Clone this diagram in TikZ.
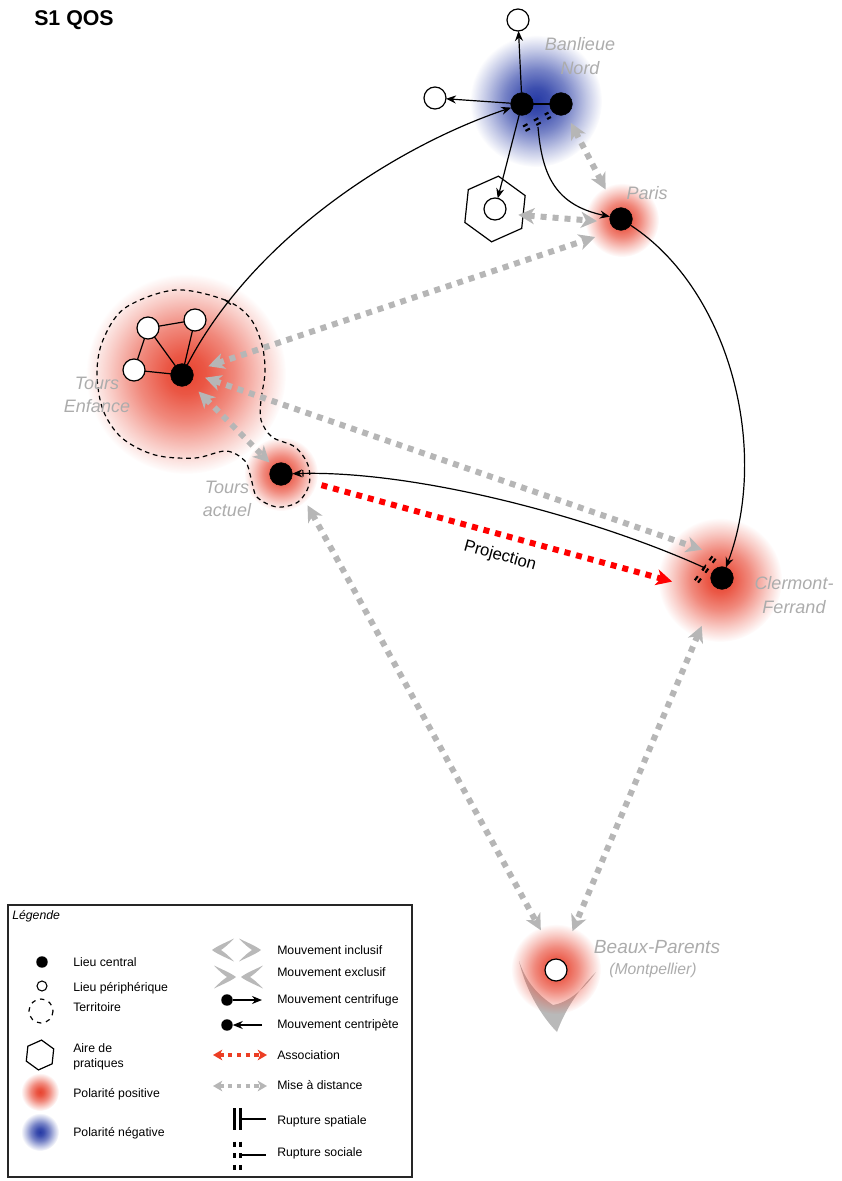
\documentclass[tikz,border=0pt]{standalone}
\usepackage{fontspec}
\setmainfont{Liberation Sans}
\usetikzlibrary{arrows.meta,fadings}
\definecolor{glowred}{RGB}{232,68,48}
\definecolor{glowblue}{RGB}{38,58,165}
\definecolor{dgray}{RGB}{182,182,182}
\definecolor{lgray}{RGB}{172,172,172}
\definecolor{chevgray}{RGB}{185,185,185}
\definecolor{legred}{RGB}{236,62,36}
\pgfdeclareradialshading{glowsh}{\pgfpointorigin}{color(0bp)=(white); color(5bp)=(white!90!black); color(12bp)=(white!63!black); color(19bp)=(white!28!black); color(25bp)=(black); color(50bp)=(black)}
\pgfdeclarefading{glowfade}{\pgfuseshading{glowsh}}
\newcommand\myglow[4]{\fill[#1,path fading=glowfade] (#2,#3) circle (#4);}
\newcommand\mychev[3]{\fill[chevgray,shift={(#1,#2)},rotate=#3] (11,-11.5) .. controls (4,-8) and (-6,-4) .. (-11,0) .. controls (-6,4) and (4,8) .. (11,11.5) .. controls (6,6) and (1,2) .. (-2,0) .. controls (1,-2) and (6,-6) .. cycle;}
\tikzset{
  cnode/.style={circle,fill=black,draw=black,inner sep=0pt,outer sep=0pt,minimum size=17pt},
  pnode/.style={circle,fill=white,draw=black,line width=0.9pt,inner sep=0pt,outer sep=0pt,minimum size=16.5pt},
  lcnode/.style={circle,fill=black,inner sep=0pt,outer sep=0pt,minimum size=8.6pt},
  lpnode/.style={circle,fill=white,draw=black,line width=0.8pt,inner sep=0pt,outer sep=0pt,minimum size=7.5pt},
  blk/.style={draw=black,line width=0.9pt,>={Stealth[length=7.5pt,width=6pt]}},
  lnk/.style={draw=black,line width=0.9pt},
  mise/.style={draw=dgray,line width=4.5pt,dash pattern=on 4.5pt off 4.5pt,>={Stealth[length=12pt,width=12pt,inset=3.5pt]},<->},
  assoc/.style={draw=red,line width=4.5pt,dash pattern=on 4.5pt off 4.5pt,>={Stealth[length=12pt,width=12pt,inset=3.5pt]},->},
  lmise/.style={line width=2.6pt,dash pattern=on 3.3pt off 3.3pt,>={Stealth[length=7pt,width=8pt,inset=2pt]},<->},
  terr/.style={draw=black,line width=0.9pt,dash pattern=on 3.5pt off 2.8pt},
  rupd/.style={draw=black,line width=1.6pt,dash pattern=on 3.75pt off 5.5pt},
  tickm/.style={sloped,rectangle,fill=black,inner sep=0pt,minimum width=1pt,minimum height=5.5pt},
  place/.style={text=lgray,font=\fontsize{13.5}{17.5}\selectfont\itshape,align=center,inner sep=0pt},
  leg/.style={font=\fontsize{9.2}{11}\selectfont,anchor=west,inner sep=0pt,text height=6.6pt,text depth=0pt},
}
\begin{document}
\begin{tikzpicture}[x=0.75pt,y=-0.75pt]
\useasboundingbox (0,0) rectangle (842,1181);

% Beaux-Parents V shape
\fill[chevgray] (519,961) .. controls (527,995) and (545,1020) .. (557,1032) .. controls (565,1010) and (578,990) .. (596,972) .. controls (582,992) and (566,1003) .. (553,1005) .. controls (538,995) and (526,982) .. (519,961) -- cycle;

% glows
\myglow{glowblue}{536}{101}{66}
\myglow{glowred}{622}{220}{37}
\myglow{glowred}{186}{374}{100}
\myglow{glowred}{281}{474}{37}
\myglow{glowred}{720}{580}{62}
\myglow{glowred}{556}{969}{45}

% territory
\draw[terr] plot[smooth cycle,tension=0.55] coordinates {(175,290) (225,300) (250,318) (262,345) (265,372) (261,400) (261,420) (272,437) (295,447) (308,465) (309,485) (298,502) (277,507) (257,497) (251,478) (245,461) (226,451) (195,458) (155,455) (122,438) (103,410) (97,373) (103,340) (125,308)};

% practice area hexagon
\begin{scope}[shift={(495,209)}]
\draw[line width=0.9pt] (-84:33) -- (-24:33) -- (36:33) -- (96:33) -- (156:33) -- (216:33) -- cycle;
\end{scope}

% nodes
\node[cnode] (bn1) at (522,104) {};
\node[cnode] (bn2) at (561,104) {};
\node[pnode] (bnt) at (518,20) {};
\node[pnode] (bnl) at (435,98) {};
\node[pnode] (hexc) at (495,209) {};
\node[cnode] (pa) at (621,219) {};
\node[cnode] (te) at (182,375) {};
\node[pnode] (te1) at (148,328) {};
\node[pnode] (te2) at (195,320) {};
\node[pnode] (te3) at (134,370) {};
\node[cnode] (ta) at (281,474) {};
\node[cnode] (cf) at (722,578) {};
\node[pnode] (bp) at (556,970) {};

% mise a distance
\draw[mise,shorten <=16pt,shorten >=25pt] (bn2.center) -- (pa.center);
\draw[mise,shorten <=17.5pt,shorten >=18pt] ([yshift=-3pt]hexc.center) -- ([yshift=-3pt]pa.center);
\draw[mise,shorten <=20.8pt,shorten >=20.5pt] (te.center) -- ([yshift=-7pt]pa.center);
\draw[mise,shorten <=18.3pt,shorten >=15.8pt] ([yshift=4pt]te.center) -- ([yshift=16pt]cf.center);
\draw[mise,shorten <=17.6pt,shorten >=12.2pt] (te.center) -- (ta.center);
\draw[mise,shorten <=26.8pt,shorten >=34pt] ([xshift=7pt]ta.center) -- ([xshift=5pt]bp.center);
\draw[mise,shorten <=39pt,shorten >=31.6pt] (cf.center) -- (bp.center);
% association
\draw[assoc,shorten <=31.5pt,shorten >=38.8pt] (ta.center) -- ([yshift=-13pt]cf.center);
\node[font=\fontsize{12.5}{15}\selectfont,rotate=-15.5] (proj) at (500,556) {Projection};

% Tours Enfance links
\draw[lnk] (te1) -- (te2);
\draw[lnk] (te1) -- (te3);
\draw[lnk] (te3) -- (te);
\draw[lnk] (te1) -- (te);
\draw[lnk] (te2) -- (te);

% movements
\draw[blk,->] (te) .. controls (255,235) and (400,145) .. node[tickm,pos=0.17] (tk) {} (bn1);
\draw[blk,->] (bn1) -- (bnt);
\draw[blk,->] (bn1) -- (bnl);
\draw[blk,->] (bn1) -- (hexc);
\draw[lnk] (bn1) -- (bn2);
\coordinate (bnr) at (538,127);
\draw[blk,->] (bnr) .. controls (542,175) and (555,205) .. (pa);
\draw[blk,->] (pa) .. controls (730,290) and (770,450) .. (cf);
\coordinate (cfr) at (705,568);
\draw[blk,{Bar[width=5pt]}-{Bar[width=5pt]Stealth[length=7.5pt,width=6pt]}] (cfr) .. controls (600,520) and (420,470) .. (ta);

% ruptures sociales
\draw[rupd] (525.5,130.9) -- (550.9,117);
\draw[rupd] (523.1,126.5) -- (548.5,112.6);
\draw[rupd] (715.6,558.7) -- (697.6,583.2);
\draw[rupd] (712.4,556.3) -- (694.4,580.8);

% labels
\node[anchor=west,font=\bfseries\fontsize{16}{19}\selectfont,inner sep=0pt] (title) at (34,20) {S1 QOS};
\node[place] (lbn) at (580,56) {Banlieue\\Nord};
\node[place] (lpa) at (647,193) {Paris};
\node[place] (lte) at (97,395) {Tours\\Enfance};
\node[place] (lta) at (227,499) {Tours\\actuel};
\node[place] (lcf) at (794,595) {Clermont-\\Ferrand};
\node[place,font=\fontsize{14.3}{17}\selectfont\itshape] (lbp1) at (657,947) {Beaux-Parents};
\node[place,font=\fontsize{11.8}{14}\selectfont\itshape] (lbp2) at (653,970) {(Montpellier)};

% legend
\draw[line width=0.9pt,draw=black!85] (8,905) rectangle (412,1177);
\node[leg,font=\fontsize{9.2}{11}\selectfont\itshape] (lgt) at (12,915) {Légende};
\node[lcnode] (lg1) at (42,962) {};
\node[leg] (lg1t) at (73,962) {Lieu central};
\node[lpnode] (lg2) at (42,986) {};
\node[leg] (lg2t) at (73,987) {Lieu périphérique};
\draw[terr,dash pattern=on 3.3pt off 3.6pt] (41,1011) circle (12);
\node[leg] (lg3t) at (73,1007) {Territoire};
\begin{scope}[shift={(40,1055)}]
\draw[line width=0.9pt] (-84:15) -- (-24:15) -- (36:15) -- (96:15) -- (156:15) -- (216:15) -- cycle;
\end{scope}
\node[leg] (lg4t) at (73,1048) {Aire de};
\node[leg] (lg4u) at (73,1063) {pratiques};
\myglow{glowred}{40}{1092}{19}
\node[leg] (lg5t) at (73,1093) {Polarité positive};
\myglow{glowblue}{40}{1132}{19}
\node[leg] (lg6t) at (73,1132) {Polarité négative};

\mychev{223}{950}{0}
\mychev{250}{950}{180}
\node[leg] (lr1t) at (277,950) {Mouvement inclusif};
\mychev{225}{977}{180}
\mychev{252}{977}{0}
\node[leg] (lr2t) at (277,972) {Mouvement exclusif};
\node[lcnode] (lr3) at (227,1000) {};
\coordinate (lr3e) at (262,1000);
\draw[blk,->] (lr3) -- (lr3e);
\node[leg] (lr3t) at (277,999) {Mouvement centrifuge};
\node[lcnode] (lr4) at (227,1025) {};
\coordinate (lr4s) at (262,1025);
\draw[blk,->] (lr4s) -- (lr4);
\node[leg] (lr4t) at (277,1024) {Mouvement centripète};
\coordinate (lr5a) at (213,1055);
\coordinate (lr5b) at (267,1055);
\draw[lmise,draw=legred] (lr5a) -- (lr5b);
\node[leg] (lr5t) at (277,1055) {Association};
\coordinate (lr6a) at (213,1086);
\coordinate (lr6b) at (267,1086);
\draw[lmise,draw=dgray] (lr6a) -- (lr6b);
\node[leg] (lr6t) at (277,1085) {Mise à distance};
\draw[line width=1.8pt] (234.5,1108) -- (234.5,1130);
\draw[line width=1.8pt] (240.3,1108) -- (240.3,1130);
\draw[line width=1.5pt] (240.3,1119) -- (266,1119);
\node[leg] (lr7t) at (277,1120) {Rupture spatiale};
\draw[line width=1.8pt,dash pattern=on 3.75pt off 5pt] (234.5,1141.5) -- (234.5,1170);
\draw[line width=1.8pt,dash pattern=on 3.75pt off 5pt] (240.3,1141.5) -- (240.3,1170);
\draw[line width=1.5pt] (240.3,1155) -- (266,1155);
\node[leg] (lr8t) at (277,1152) {Rupture sociale};
\end{tikzpicture}
\end{document}
